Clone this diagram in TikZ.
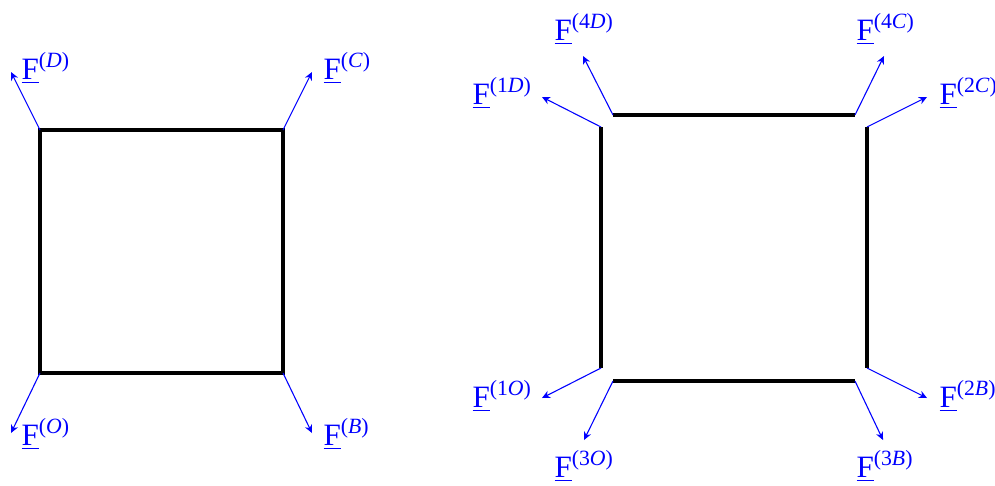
\documentclass[tikz,border=0pt]{standalone}
\usepackage{fontspec}
\setmainfont{Liberation Serif}
\usepackage{tikz}
\usetikzlibrary{arrows.meta,positioning}
\tikzset{
  frc/.style={-{Stealth[length=3pt,width=2.8pt]},blue,thin},
  edg/.style={very thick,black,line cap=butt},
  lbl/.style={text=blue,inner sep=0pt,anchor=base west,font=\fontsize{11.5}{14}\selectfont}
}
\newcommand{\Fv}[1]{\underline{F}\textsuperscript{(#1)}}

\begin{document}
\begin{tikzpicture}[x=0.37pt,y=-0.37pt]
\useasboundingbox (0,0) rectangle (995,485);
% left: whole square
\coordinate (O) at (40,373);\coordinate (B) at (283,373);
\coordinate (C) at (283,130);\coordinate (D) at (40,130);
\draw[edg] (O)--(B)--(C)--(D)--cycle;
\coordinate (tD) at (11,72);\coordinate (tC) at (312,72);
\coordinate (tO) at (11,433);\coordinate (tB) at (312,433);
\node[lbl] (fD) at (21,79) {\Fv{\textit{D}}};
\node[lbl] (fC) at (323,79) {\Fv{\textit{C}}};
\node[lbl] (fO) at (21,445) {\Fv{\textit{O}}};
\node[lbl] (fB) at (323,445) {\Fv{\textit{B}}};
\foreach \c in {D,C,O,B}{\draw[frc] (\c)--(t\c);}
% right: cut into four bars
\coordinate (e4D) at (613,115);\coordinate (e4C) at (855,115);
\coordinate (e1D) at (601,127);\coordinate (e1O) at (601,368);
\coordinate (e3O) at (613,381);\coordinate (e3B) at (855,381);
\coordinate (e2C) at (867,127);\coordinate (e2B) at (867,368);
\draw[edg] (e4D)--(e4C);\draw[edg] (e1D)--(e1O);
\draw[edg] (e3O)--(e3B);\draw[edg] (e2C)--(e2B);
\coordinate (t4D) at (583,56);\coordinate (t4C) at (884,56);
\coordinate (t1D) at (542,97);\coordinate (t2C) at (927,97);
\coordinate (t1O) at (542,398);\coordinate (t2B) at (927,398);
\coordinate (t3O) at (584,440);\coordinate (t3B) at (883,440);
\node[lbl] (f4D) at (554,40) {\Fv{4\textit{D}}};
\node[lbl] (f4C) at (856,40) {\Fv{4\textit{C}}};
\node[lbl] (f1D) at (472,104) {\Fv{1\textit{D}}};
\node[lbl] (f2C) at (939,104) {\Fv{2\textit{C}}};
\node[lbl] (f1O) at (472,407) {\Fv{1\textit{O}}};
\node[lbl] (f2B) at (939,407) {\Fv{2\textit{B}}};
\node[lbl] (f3O) at (554,477) {\Fv{3\textit{O}}};
\node[lbl] (f3B) at (856,477) {\Fv{3\textit{B}}};
\foreach \c in {4D,4C,1D,2C,1O,2B,3O,3B}{\draw[frc] (e\c)--(t\c);}
\end{tikzpicture}
\end{document}
